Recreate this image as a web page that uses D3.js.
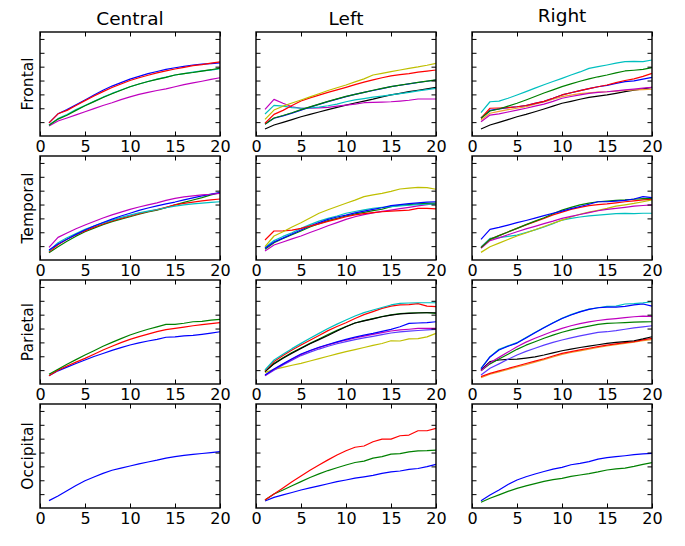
<!DOCTYPE html>
<html><head><meta charset="utf-8">
<script src="https://cdn.jsdelivr.net/npm/d3@7"></script>
<style>body{margin:0;background:#fff}svg{display:block}</style>
</head><body><svg id="c" width="685" height="546"></svg>
<script>
// ---------- data ----------
const xValues = [1,2,3,4,5,6,7,8,9,10,11,12,13,14,15,16,17,18,19,20];
const columnNames = ["Central","Left","Right"];
const rowNames = ["Frontal","Temporal","Parietal","Occipital"];
const xTickValues = [0,5,10,15,20];
const yTickValues = [1,2,3,4,5,6,7];

// Frontal / Central
const fc_b = [0.95,1.6,1.9,2.25,2.6,2.95,3.3,3.6,3.85,4.1,4.3,4.5,4.65,4.8,4.92,5.02,5.12,5.18,5.22,5.28];
const fc_r = [0.95,1.6,1.85,2.2,2.55,2.88,3.2,3.5,3.75,4.0,4.2,4.38,4.55,4.7,4.83,4.95,5.08,5.15,5.25,5.35];
const fc_g = [0.78,1.22,1.5,1.85,2.18,2.48,2.78,3.05,3.3,3.55,3.75,3.93,4.08,4.23,4.4,4.5,4.58,4.68,4.78,4.9];
const fc_c = [0.8,1.25,1.55,1.9,2.2,2.5,2.8,3.07,3.32,3.55,3.75,3.93,4.1,4.25,4.4,4.5,4.6,4.7,4.75,4.85];
const fc_m = [0.72,1.08,1.3,1.52,1.75,1.97,2.2,2.4,2.62,2.82,3.0,3.15,3.28,3.4,3.55,3.7,3.83,3.95,4.08,4.2];
// Frontal / Left
const fl_y = [1.2,1.87,2.15,2.38,2.6,2.82,3.05,3.28,3.48,3.68,3.9,4.12,4.4,4.52,4.64,4.76,4.88,4.98,5.1,5.24];
const fl_r = [0.92,1.56,1.85,2.2,2.52,2.75,2.95,3.15,3.33,3.51,3.7,3.88,4.05,4.2,4.33,4.42,4.5,4.6,4.68,4.76];
const fl_b = [0.87,1.28,1.45,1.65,1.87,2.08,2.28,2.48,2.66,2.84,3.0,3.15,3.28,3.42,3.56,3.66,3.76,3.86,3.95,4.04];
const fl_g = [0.85,1.3,1.48,1.68,1.9,2.1,2.3,2.5,2.68,2.86,3.0,3.15,3.3,3.43,3.56,3.67,3.77,3.87,3.96,4.05];
const fl_c = [1.59,2.21,2.15,2.05,2.0,2.02,2.08,2.18,2.3,2.47,2.6,2.7,2.8,2.88,2.96,3.05,3.15,3.25,3.35,3.44];
const fl_k = [0.5,0.79,0.98,1.18,1.39,1.56,1.73,1.9,2.06,2.23,2.38,2.52,2.66,2.82,2.96,3.08,3.2,3.3,3.4,3.51];
const fl_m = [1.92,2.64,2.36,2.11,2.0,2.0,2.03,2.07,2.15,2.23,2.3,2.4,2.42,2.45,2.47,2.52,2.58,2.67,2.67,2.67];
// Frontal / Right
const fr_c = [1.68,2.47,2.52,2.72,2.96,3.2,3.45,3.7,3.93,4.16,4.4,4.62,4.88,5.0,5.12,5.25,5.36,5.38,5.36,5.48];
const fr_g = [1.28,1.8,1.95,2.15,2.36,2.6,2.85,3.1,3.33,3.56,3.76,3.95,4.12,4.27,4.4,4.55,4.69,4.74,4.8,4.93];
const fr_r = [1.28,2.0,2.02,2.05,2.11,2.2,2.35,2.5,2.72,2.96,3.12,3.27,3.42,3.55,3.68,3.85,4.0,4.12,4.3,4.52];
const fr_b = [1.3,1.85,1.95,2.05,2.11,2.2,2.35,2.5,2.72,2.96,3.12,3.27,3.42,3.55,3.65,3.8,3.92,3.98,4.1,4.23];
const fr_m = [1.03,1.51,1.6,1.73,1.87,2.0,2.15,2.3,2.5,2.72,2.85,2.97,3.08,3.15,3.19,3.25,3.32,3.38,3.45,3.51];
const fr_y = [1.15,1.64,1.78,1.9,2.0,2.12,2.3,2.45,2.65,2.84,2.95,3.05,3.12,3.17,3.19,3.24,3.28,3.32,3.35,3.37];
const fr_k = [0.5,0.79,0.98,1.18,1.39,1.56,1.75,1.95,2.15,2.36,2.5,2.65,2.78,2.88,2.96,3.08,3.2,3.3,3.4,3.51];
// Temporal / Central
const tc_m = [0.91,1.63,1.95,2.25,2.52,2.78,3.03,3.25,3.45,3.65,3.82,3.97,4.12,4.3,4.45,4.55,4.63,4.7,4.74,4.81];
const tc_b = [0.72,1.15,1.5,1.85,2.16,2.45,2.7,2.95,3.17,3.37,3.58,3.75,3.9,4.05,4.18,4.33,4.48,4.62,4.75,4.86];
const tc_c = [0.65,1.25,1.6,1.9,2.21,2.45,2.68,2.88,3.07,3.24,3.4,3.52,3.64,3.77,3.89,3.98,4.05,4.1,4.15,4.2];
const tc_r = [0.6,1.1,1.5,1.82,2.1,2.37,2.6,2.82,3.0,3.17,3.35,3.5,3.63,3.8,3.97,4.08,4.18,4.26,4.33,4.4];
const tc_g = [0.53,0.96,1.35,1.72,2.04,2.3,2.55,2.77,2.95,3.12,3.3,3.46,3.6,3.78,3.97,4.15,4.33,4.5,4.7,4.86];
// Temporal / Left
const tl_y = [0.96,1.73,2.04,2.38,2.69,3.03,3.37,3.62,3.86,4.09,4.32,4.57,4.7,4.81,4.95,5.12,5.18,5.24,5.22,5.1];
const tl_r = [1.44,2.09,2.1,2.16,2.28,2.44,2.6,2.78,2.95,3.12,3.25,3.35,3.42,3.48,3.53,3.56,3.6,3.72,3.73,3.68];
const tl_b = [0.84,1.3,1.58,1.88,2.16,2.45,2.7,2.93,3.1,3.24,3.4,3.52,3.65,3.77,3.92,4.0,4.06,4.12,4.17,4.2];
const tl_c = [0.9,1.4,1.7,1.97,2.28,2.55,2.8,3.0,3.17,3.37,3.5,3.62,3.73,3.8,3.85,3.9,3.95,4.0,4.02,4.03];
const tl_g = [0.77,1.25,1.55,1.82,2.09,2.38,2.62,2.84,3.0,3.17,3.32,3.44,3.56,3.66,3.85,3.95,4.0,4.05,4.08,4.1];
const tl_m = [0.65,1.08,1.3,1.52,1.73,1.98,2.22,2.47,2.7,2.93,3.12,3.27,3.4,3.5,3.6,3.7,3.8,3.9,4.0,4.09];
// Temporal / Right
const tr_b = [1.49,2.21,2.35,2.52,2.69,2.85,3.02,3.2,3.37,3.53,3.7,3.86,4.02,4.2,4.2,4.25,4.3,4.4,4.57,4.5];
const tr_g = [0.89,1.49,1.76,2.02,2.28,2.55,2.8,3.05,3.33,3.6,3.8,3.97,4.1,4.2,4.25,4.3,4.33,4.38,4.42,4.45];
const tr_r = [0.89,1.49,1.76,2.02,2.28,2.53,2.77,3.0,3.25,3.45,3.65,3.8,3.92,4.0,4.05,4.12,4.2,4.27,4.33,4.38];
const tr_m = [0.85,1.4,1.6,1.82,2.04,2.24,2.43,2.62,2.8,3.0,3.15,3.28,3.42,3.55,3.65,3.72,3.8,3.88,3.93,3.97];
const tr_y = [0.55,0.96,1.22,1.48,1.73,1.95,2.18,2.42,2.65,2.88,3.1,3.3,3.45,3.58,3.72,3.88,3.98,4.08,4.2,4.33];
const tr_c = [0.95,1.56,1.62,1.7,1.8,1.98,2.17,2.38,2.62,2.88,3.0,3.1,3.18,3.24,3.29,3.34,3.36,3.34,3.37,3.37];
// Parietal / Central
const pc_g = [0.7,1.06,1.42,1.76,2.09,2.4,2.72,3.0,3.27,3.53,3.75,3.95,4.12,4.3,4.3,4.38,4.49,4.52,4.6,4.66];
const pc_r = [0.6,1.0,1.3,1.58,1.85,2.15,2.45,2.72,2.98,3.22,3.42,3.6,3.78,3.92,4.01,4.1,4.2,4.28,4.35,4.42];
const pc_b = [0.6,0.95,1.22,1.48,1.73,1.98,2.2,2.42,2.62,2.81,2.97,3.1,3.22,3.37,3.4,3.47,3.5,3.58,3.67,3.77];
// Parietal / Left
const pl_c = [1.01,1.73,2.15,2.55,2.93,3.3,3.65,4.0,4.32,4.61,4.9,5.15,5.34,5.52,5.7,5.82,5.84,5.86,5.86,5.86];
const pl_r = [0.96,1.62,2.05,2.45,2.81,3.16,3.5,3.85,4.15,4.42,4.72,5.0,5.22,5.45,5.62,5.7,5.72,5.8,5.62,5.58];
const pl_k = [0.89,1.45,1.85,2.22,2.57,2.9,3.2,3.5,3.82,4.13,4.4,4.55,4.7,4.85,4.97,5.05,5.1,5.12,5.14,5.14];
const pl_g = [0.9,1.5,1.9,2.27,2.6,2.93,3.25,3.57,3.87,4.15,4.4,4.57,4.72,4.87,4.98,5.07,5.12,5.14,5.15,5.1];
const pl_b = [0.65,1.08,1.45,1.82,2.16,2.42,2.65,2.85,3.04,3.22,3.38,3.52,3.65,3.8,3.94,4.13,4.37,4.4,4.42,4.49];
const pl_m = [0.62,1.05,1.42,1.78,2.12,2.4,2.62,2.82,3.0,3.17,3.32,3.45,3.58,3.7,3.82,3.9,3.95,4.01,4.01,4.01];
const pl_v = [0.6,1.0,1.38,1.72,2.05,2.3,2.52,2.72,2.9,3.05,3.2,3.32,3.44,3.56,3.68,3.76,3.82,3.86,3.9,3.94];
const pl_y = [0.82,1.06,1.2,1.35,1.49,1.66,1.83,2.0,2.17,2.33,2.48,2.63,2.78,2.92,3.12,3.1,3.25,3.27,3.4,3.65];
// Parietal / Right
const pr_c = [1.13,1.97,2.5,2.75,2.98,3.35,3.72,4.08,4.42,4.73,5.0,5.22,5.4,5.5,5.6,5.62,5.77,5.8,5.85,5.93];
const pr_b = [1.1,1.95,2.45,2.72,2.95,3.32,3.7,4.05,4.4,4.72,4.98,5.2,5.38,5.5,5.55,5.55,5.6,5.7,5.77,5.62];
const pr_m = [0.96,1.54,1.92,2.3,2.69,3.02,3.3,3.55,3.8,4.01,4.2,4.35,4.48,4.58,4.66,4.72,4.78,4.85,4.9,4.88];
const pr_g = [0.96,1.45,1.8,2.15,2.5,2.8,3.05,3.3,3.52,3.73,3.9,4.05,4.18,4.3,4.37,4.4,4.43,4.46,4.48,4.49];
const pr_v = [0.65,1.13,1.45,1.78,2.09,2.35,2.58,2.8,3.0,3.17,3.33,3.47,3.6,3.72,3.77,3.85,3.95,4.05,4.12,4.2];
const pr_k = [1.01,1.61,1.73,1.77,1.8,1.87,1.95,2.09,2.25,2.4,2.52,2.63,2.73,2.83,2.93,3.0,3.06,3.12,3.25,3.41];
const pr_r = [0.53,0.77,0.95,1.12,1.3,1.48,1.65,1.82,2.02,2.21,2.34,2.46,2.58,2.7,2.81,2.9,2.98,3.06,3.18,3.29];
const pr_o = [0.45,0.7,0.88,1.05,1.23,1.4,1.58,1.76,1.95,2.14,2.27,2.39,2.51,2.63,2.74,2.84,2.93,3.02,3.12,3.2];
// Occipital
const oc_b = [0.53,0.87,1.25,1.62,1.97,2.24,2.5,2.72,2.88,3.03,3.18,3.32,3.45,3.6,3.7,3.8,3.87,3.93,4.0,4.06];
const ol_r = [0.58,1.01,1.45,1.9,2.31,2.72,3.1,3.47,3.82,4.13,4.38,4.47,4.78,4.97,4.97,5.21,5.26,5.57,5.57,5.74];
const ol_g = [0.58,1.01,1.3,1.6,1.9,2.2,2.46,2.7,2.9,3.1,3.28,3.38,3.6,3.7,3.89,3.92,4.05,4.12,4.14,4.18];
const ol_b = [0.5,0.77,0.95,1.12,1.3,1.45,1.6,1.75,1.9,2.02,2.15,2.25,2.35,2.5,2.6,2.67,2.78,2.85,2.98,3.15];
const or_b = [0.53,0.94,1.3,1.7,2.02,2.25,2.45,2.63,2.8,2.93,3.12,3.22,3.34,3.53,3.63,3.7,3.77,3.85,3.9,3.94];
const or_g = [0.41,0.7,0.95,1.2,1.42,1.6,1.76,1.92,2.04,2.14,2.28,2.38,2.48,2.6,2.74,2.82,2.88,3.0,3.15,3.27];

// series per panel [colour code, values], drawn in order
const panelSeries = [
  [ [["m",fc_m],["c",fc_c],["g",fc_g],["b",fc_b],["r",fc_r]],
    [["k",fl_k],["m",fl_m],["c",fl_c],["b",fl_b],["g",fl_g],["r",fl_r],["y",fl_y]],
    [["k",fr_k],["o",fr_y],["m",fr_m],["b",fr_b],["r",fr_r],["g",fr_g],["c",fr_c]] ],
  [ [["g",tc_g],["r",tc_r],["c",tc_c],["b",tc_b],["m",tc_m]],
    [["m",tl_m],["g",tl_g],["c",tl_c],["b",tl_b],["r",tl_r],["y",tl_y]],
    [["c",tr_c],["y",tr_y],["m",tr_m],["r",tr_r],["g",tr_g],["b",tr_b]] ],
  [ [["b",pc_b],["r",pc_r],["g",pc_g]],
    [["y",pl_y],["v",pl_v],["m",pl_m],["b",pl_b],["g",pl_g],["k",pl_k],["r",pl_r],["c",pl_c]],
    [["o",pr_o],["r",pr_r],["k",pr_k],["v",pr_v],["g",pr_g],["m",pr_m],["c",pr_c],["b",pr_b]] ],
  [ [["b",oc_b]],
    [["b",ol_b],["g",ol_g],["r",ol_r]],
    [["g",or_g],["b",or_b]] ]
];

const colourOf = {b:"#0000ff",g:"#008000",r:"#ff0000",c:"#00bfbf",m:"#bf00bf",y:"#bfbf00",k:"#000000",o:"#f0a030",v:"#5a3cff"};

// ---------- layout ----------
const svg = d3.select("#c");
const colX = [40,256,472], rowY = [32,156,280,404];
const pw = 180, ph = 104;
const font = "DejaVu Sans, Bitstream Vera Sans, sans-serif";

const x = d3.scaleLinear().domain([0,20]).range([0,pw]);
const y = d3.scaleLinear().domain([0,7.5]).range([ph,0]);
const line = d3.line().x((d,i)=>x(xValues[i])).y(d=>y(d));

rowNames.forEach((rn,ri)=>{
  columnNames.forEach((cn,ci)=>{
    const g = svg.append("g").attr("transform",`translate(${colX[ci]},${rowY[ri]})`);
    // lines
    panelSeries[ri][ci].forEach(([code,vals])=>{
      g.append("path").datum(vals).attr("d",line)
        .attr("fill","none").attr("stroke",colourOf[code])
        .attr("stroke-width",1.2).attr("stroke-linejoin","round");
    });
    // axes (inward ticks)
    const ax = (gen,tx,ty)=>{
      const a = g.append("g").attr("transform",`translate(${tx},${ty})`).call(gen);
      a.select(".domain").remove();
      a.selectAll("line").attr("stroke","#000").attr("stroke-width",1);
      return a;
    };
    const bot = ax(d3.axisBottom(x).tickValues(xTickValues).tickSize(-4.5).tickPadding(5).tickFormat(d3.format("d")),0,ph);
    bot.selectAll("text").attr("font-family",font).attr("font-size",16).attr("fill","#000");
    ax(d3.axisTop(x).tickValues(xTickValues).tickSize(-4.5).tickFormat(""),0,0);
    ax(d3.axisLeft(y).tickValues(yTickValues).tickSize(-4.5).tickFormat(""),0,0);
    ax(d3.axisRight(y).tickValues(yTickValues).tickSize(-4.5).tickFormat(""),pw,0);
    // frame
    g.append("rect").attr("width",pw).attr("height",ph)
      .attr("fill","none").attr("stroke","#000").attr("stroke-width",1.4);
    // titles
    if(ri===0){
      svg.append("text").attr("x",colX[ci]+pw/2).attr("y",ci===2?22:25)
        .attr("text-anchor","middle").attr("font-family",font).attr("font-size",18.5)
        .text(cn);
    }
    if(ci===0){
      svg.append("text").attr("transform",`translate(33,${rowY[ri]+ph/2}) rotate(-90)`)
        .attr("text-anchor","middle").attr("font-family",font).attr("font-size",15.5)
        .text(rn);
    }
  });
});
</script>
</body></html>
